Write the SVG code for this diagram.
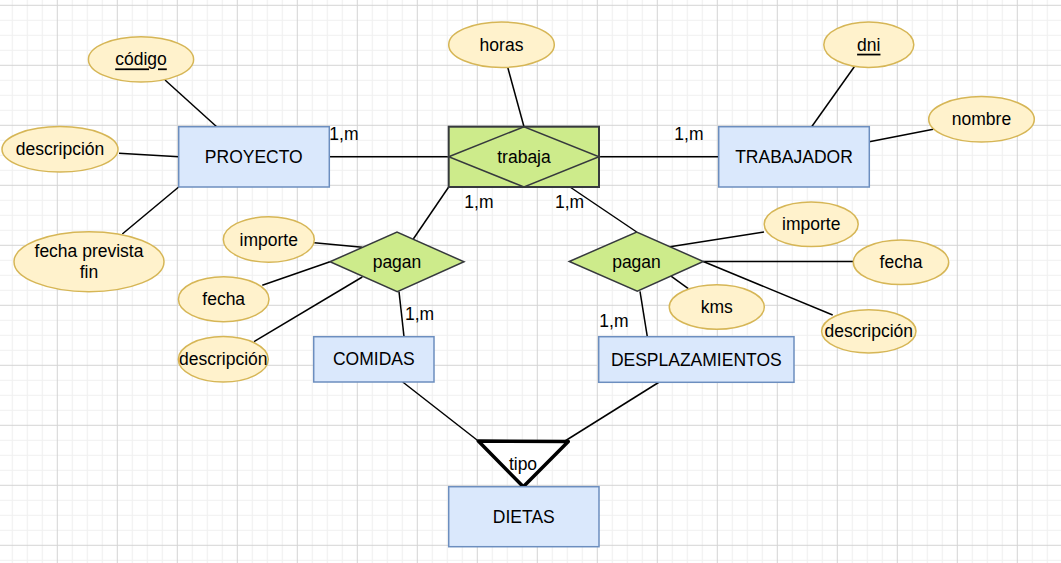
<svg xmlns="http://www.w3.org/2000/svg" width="1061" height="563" viewBox="0 0 1061 563">
<style>
text{font-family:"Liberation Sans",Arial,sans-serif;font-size:17.5px;fill:#000;text-anchor:middle;dominant-baseline:central}
.lbl{text-anchor:start}
.ent{fill:#dae8fc;stroke:#6c8ebf;stroke-width:1.5}
.att{fill:#fff2cc;stroke:#d6b656;stroke-width:1.5}
.rel{fill:#cdeb8b;stroke:#36393d;stroke-width:1.5}
.key{text-decoration:underline}
#connectors line{stroke:#000;stroke-width:1.5}
</style>
<defs>
<pattern id="grid" patternUnits="userSpaceOnUse" x="56.8" y="4.8" width="60" height="60">
<path d="M15.5 0V60M30.5 0V60M45.5 0V60M0 15.5H60M0 30.5H60M0 45.5H60" stroke="#f0f0f0" stroke-width="1.2" fill="none"/>
<path d="M0.5 0V60M0 0.5H60" stroke="#d4d4d4" stroke-width="1" fill="none"/>
</pattern>
</defs>
<rect width="1061" height="563" fill="#fff"/>
<rect width="1061" height="563" fill="url(#grid)"/>

<g id="connectors">
<line x1="165" y1="80" x2="216.7" y2="126.7"/>
<line x1="119" y1="153.3" x2="178.7" y2="156.7"/>
<line x1="122.3" y1="234" x2="178.7" y2="187"/>
<line x1="329.3" y1="156.7" x2="448.7" y2="156.7"/>
<line x1="507.7" y1="67.3" x2="524" y2="126.7"/>
<line x1="599" y1="156.7" x2="718.7" y2="156.7"/>
<line x1="854.3" y1="66.7" x2="811.5" y2="127"/>
<line x1="933.3" y1="129.3" x2="869.3" y2="141.7"/>
<line x1="448.7" y1="187" x2="413.3" y2="239"/>
<line x1="570" y1="187" x2="636.7" y2="232"/>
<line x1="314.3" y1="242.7" x2="362.3" y2="247.3"/>
<line x1="262.3" y1="285.3" x2="330" y2="261.7"/>
<line x1="254" y1="341.7" x2="362.3" y2="277"/>
<line x1="399" y1="291.7" x2="404" y2="336.7"/>
<line x1="670" y1="246.7" x2="764" y2="232"/>
<line x1="703.3" y1="261.5" x2="853.3" y2="261.5"/>
<line x1="670" y1="275.3" x2="688.3" y2="288.7"/>
<line x1="703.3" y1="261.5" x2="832.7" y2="315"/>
<line x1="640" y1="291.3" x2="647.3" y2="336.7"/>
<line x1="402.7" y1="382" x2="478.3" y2="441"/>
<line x1="659.3" y1="382" x2="565" y2="441"/>
</g>

<g id="proyecto"><rect class="ent" x="178.7" y="126.7" width="150.6" height="60.3"/><text x="253.8" y="156.9">PROYECTO</text></g>
<g id="codigo"><ellipse class="att" cx="141" cy="59.4" rx="52.6" ry="22.6"/><text class="key" x="141" y="59.4">código</text></g>
<g id="descripcion-proyecto"><ellipse class="att" cx="60" cy="149.3" rx="58" ry="22.7"/><text x="60" y="149.3">descripción</text></g>
<g id="fecha-prevista-fin"><ellipse class="att" cx="89" cy="261.7" rx="75" ry="30"/><text x="89" y="251">fecha prevista</text><text x="89" y="272">fin</text></g>

<g id="trabaja"><rect x="448.7" y="126.7" width="150.3" height="60.3" fill="#cdeb8b" stroke="#36393d" stroke-width="2"/><polygon points="448.7,156.8 524,126.7 599,156.8 524,187" fill="none" stroke="#36393d" stroke-width="1.5"/><text x="524" y="156.9">trabaja</text></g>
<g id="horas"><ellipse class="att" cx="501.5" cy="44.7" rx="52.8" ry="22.7"/><text x="501.5" y="44.7">horas</text></g>

<g id="trabajador"><rect class="ent" x="718.7" y="126.7" width="150.6" height="60.3"/><text x="794" y="156.9">TRABAJADOR</text></g>
<g id="dni"><ellipse class="att" cx="868.8" cy="44.7" rx="45" ry="22.7"/><text class="key" x="868.8" y="44.7">dni</text></g>
<g id="nombre"><ellipse class="att" cx="981.5" cy="119.3" rx="52.8" ry="22.7"/><text x="981.5" y="119.3">nombre</text></g>

<g id="pagan-comidas"><polygon class="rel" points="330,261.8 397,232 464,261.8 397.3,291.7"/><text x="397" y="262">pagan</text></g>
<g id="importe-comidas"><ellipse class="att" cx="268.8" cy="239.5" rx="45.5" ry="22.7"/><text x="268.8" y="239.5">importe</text></g>
<g id="fecha-comidas"><ellipse class="att" cx="223.7" cy="299.2" rx="45.3" ry="22.5"/><text x="223.7" y="299.2">fecha</text></g>
<g id="descripcion-comidas"><ellipse class="att" cx="223.3" cy="359.3" rx="45" ry="22.7"/><text x="223.3" y="359.3">descripción</text></g>
<g id="comidas"><rect class="ent" x="313.7" y="336.7" width="120.3" height="45.3"/><text x="373.8" y="359.4">COMIDAS</text></g>

<g id="pagan-desplazamientos"><polygon class="rel" points="569.3,261.5 636.7,232 703.3,261.5 637.3,291.3"/><text x="636.5" y="261.6">pagan</text></g>
<g id="importe-desplazamientos"><ellipse class="att" cx="811.2" cy="224.3" rx="47" ry="22.3"/><text x="811.2" y="224.3">importe</text></g>
<g id="fecha-desplazamientos"><ellipse class="att" cx="901" cy="262.3" rx="47.7" ry="22.3"/><text x="901" y="262.3">fecha</text></g>
<g id="kms"><ellipse class="att" cx="716.8" cy="307" rx="47.5" ry="22.3"/><text x="716.8" y="307">kms</text></g>
<g id="descripcion-desplazamientos"><ellipse class="att" cx="868.8" cy="331.3" rx="47.2" ry="21.6"/><text x="868.8" y="331.3">descripción</text></g>
<g id="desplazamientos"><rect class="ent" x="598.7" y="336.7" width="195.3" height="45.6"/><text x="696.3" y="359.5">DESPLAZAMIENTOS</text></g>

<g id="tipo"><polygon points="478.3,441 568.3,441.5 523.3,486.7" fill="#fff" stroke="#000" stroke-width="3.5" stroke-linejoin="round"/><text x="523" y="464.3">tipo</text></g>
<g id="dietas"><rect class="ent" x="448.7" y="486.7" width="150.3" height="60"/><text x="523.8" y="516.7">DIETAS</text></g>

<g id="cardinalities">
<text class="lbl" x="329.3" y="134.3">1,m</text>
<text class="lbl" x="674.3" y="134.3">1,m</text>
<text class="lbl" x="464.3" y="201.7">1,m</text>
<text class="lbl" x="555" y="201.7">1,m</text>
<text class="lbl" x="405" y="314.3">1,m</text>
<text class="lbl" x="599.3" y="321">1,m</text>
</g>
</svg>
